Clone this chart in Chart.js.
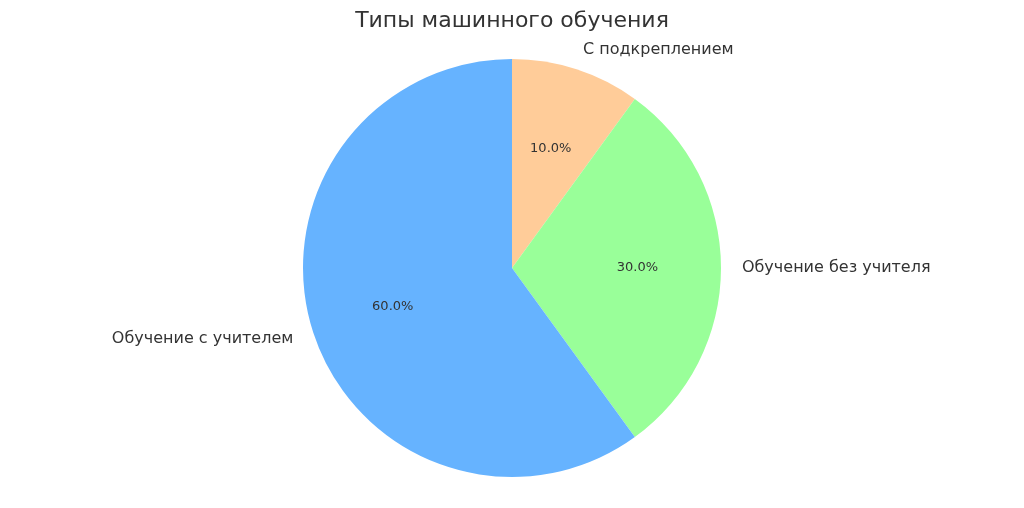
<!DOCTYPE html>
<html><head><meta charset="utf-8">
<script src="https://cdn.jsdelivr.net/npm/chart.js@4"></script>
<style>html,body{margin:0;padding:0;background:#fff}#w{width:1024px;height:508px}</style>
</head><body><div id="w"><canvas id="c"></canvas></div>
<script>
const categories = ["С подкреплением", "Обучение без учителя", "Обучение с учителем"];
const values = [10, 30, 60];
const colors = ["#ffcc99", "#99ff99", "#66b3ff"];
const title = "Типы машинного обучения";

const labelPlugin = {
  id: 'lbl',
  afterDraw(chart) {
    const ctx = chart.ctx;
    const meta = chart.getDatasetMeta(0);
    const total = values.reduce((a, b) => a + b, 0);
    ctx.save();
    ctx.fillStyle = '#333';
    ctx.font = '22px "DejaVu Sans"';
    ctx.textAlign = 'center'; ctx.textBaseline = 'middle';
    ctx.fillText(title, 512, 21);
    meta.data.forEach((arc, i) => {
      const mid = (arc.startAngle + arc.endAngle) / 2;
      const r = arc.outerRadius;
      const cx = arc.x, cy = arc.y;
      const c = Math.cos(mid), s = Math.sin(mid);
      ctx.font = '13px "DejaVu Sans"';
      ctx.textAlign = 'center';
      ctx.fillText((values[i] / total * 100).toFixed(1) + '%', cx + c * r * 0.6, cy + s * r * 0.6);
      ctx.font = '16px "DejaVu Sans"';
      ctx.textAlign = c >= 0 ? 'left' : 'right';
      ctx.fillText(categories[i], cx + c * r * 1.1, cy + s * r * 1.1);
    });
    ctx.restore();
  }
};

new Chart(document.getElementById('c'), {
  type: 'pie',
  data: { labels: categories, datasets: [{ data: values, backgroundColor: colors, borderWidth: 0 }] },
  options: {
    responsive: true, maintainAspectRatio: false, animation: false,
    layout: { padding: { top: 59, bottom: 31 } },
    plugins: { legend: { display: false }, tooltip: { enabled: false }, title: { display: false } }
  },
  plugins: [labelPlugin]
});
</script></body></html>
